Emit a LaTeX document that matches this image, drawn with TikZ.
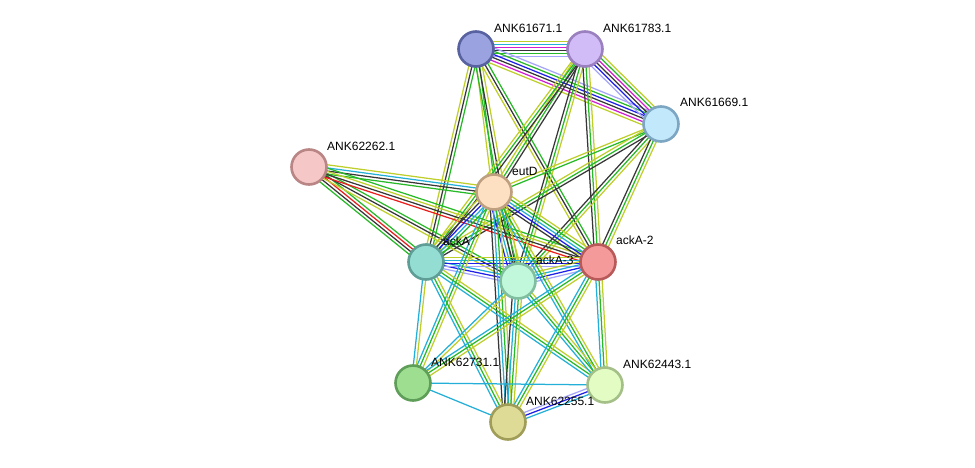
\documentclass[tikz,border=0pt]{standalone}
\usepackage{fontspec}
\setmainfont{Liberation Sans}
\usepackage{tikz}
\usetikzlibrary{calc}
\pgfdeclarelayer{background}
\pgfsetlayers{background,main}
\definecolor{textmine}{RGB}{190,206,42}
\definecolor{coexp}{RGB}{55,55,55}
\definecolor{neigh}{RGB}{40,185,40}
\definecolor{dbase}{RGB}{35,175,215}
\definecolor{cooccur}{RGB}{30,30,235}
\definecolor{fusion}{RGB}{235,30,30}
\definecolor{exper}{RGB}{210,30,210}
\definecolor{homol}{RGB}{165,165,250}

% one protein-protein link: a bundle of parallel coloured lines
\newcommand{\linkedge}[3]{%
  \foreach \col [count=\i] in {#3} {\xdef\ncol{\i}}
  \foreach \col [count=\i] in {#3} {
    \pgfmathsetmacro{\off}{(\i-(\ncol+1)/2)*3.1}
    \draw[edgeline, \col] ($(#1)!\off pt!90:(#2)$) -- ($(#2)!\off pt!-90:(#1)$);
  }%
}

\begin{document}
\begin{tikzpicture}[x=1pt, y=-1pt,
  prot/.style={circle, minimum size=35pt, inner sep=0pt, line width=2.6pt},
  plabel/.style={anchor=west, inner sep=0pt, font=\fontsize{12}{14}\selectfont},
  edgeline/.style={line width=1.25pt}]
  \useasboundingbox (0,0) rectangle (975,468);

  % Proteins
  \node[prot, fill={rgb,255:red,154;green,163;blue,223}, draw={rgb,255:red,88;green,98;blue,160}] (a61671) at (476,49) {};
  \node[prot, fill={rgb,255:red,210;green,188;blue,248}, draw={rgb,255:red,155;green,128;blue,192}] (a61783) at (585,49) {};
  \node[prot, fill={rgb,255:red,194;green,232;blue,251}, draw={rgb,255:red,124;green,166;blue,194}] (a61669) at (661,124) {};
  \node[prot, fill={rgb,255:red,245;green,199;blue,199}, draw={rgb,255:red,185;green,133;blue,133}] (a62262) at (309,167) {};
  \node[prot, fill={rgb,255:red,253;green,223;blue,193}, draw={rgb,255:red,190;green,160;blue,128}] (eutD) at (494,192) {};
  \node[prot, fill={rgb,255:red,148;green,221;blue,211}, draw={rgb,255:red,94;green,158;blue,150}] (ackA) at (426,262) {};
  \node[prot, fill={rgb,255:red,193;green,247;blue,218}, draw={rgb,255:red,128;green,190;blue,160}] (ackA3) at (518,281) {};
  \node[prot, fill={rgb,255:red,245;green,154;blue,154}, draw={rgb,255:red,185;green,90;blue,90}] (ackA2) at (598,262) {};
  \node[prot, fill={rgb,255:red,158;green,222;blue,145}, draw={rgb,255:red,94;green,158;blue,88}] (a62731) at (413,383) {};
  \node[prot, fill={rgb,255:red,226;green,252;blue,195}, draw={rgb,255:red,164;green,192;blue,136}] (a62443) at (605,385) {};
  \node[prot, fill={rgb,255:red,222;green,219;blue,150}, draw={rgb,255:red,160;green,157;blue,88}] (a62255) at (508,422) {};

  % Labels
  \node[plabel] at ($(a61671)+(18,-21)$) {ANK61671.1};
  \node[plabel] at ($(a61783)+(18,-21)$) {ANK61783.1};
  \node[plabel] at ($(a61669)+(19,-22)$) {ANK61669.1};
  \node[plabel] at ($(a62262)+(18,-21)$) {ANK62262.1};
  \node[plabel] at ($(eutD)+(18,-21)$) {eutD};
  \node[plabel] at ($(ackA)+(17,-21)$) {ackA};
  \node[plabel] at ($(ackA3)+(18,-21)$) {ackA-3};
  \node[plabel] at ($(ackA2)+(18,-22)$) {ackA-2};
  \node[plabel] at ($(a62731)+(18,-21)$) {ANK62731.1};
  \node[plabel] at ($(a62443)+(18,-21)$) {ANK62443.1};
  \node[plabel] at ($(a62255)+(18,-21)$) {ANK62255.1};

  % Links
  \begin{pgfonlayer}{background}
    \linkedge{a61671}{a61783}{homol,neigh,coexp,exper,dbase,textmine}
    \linkedge{a61671}{a61669}{textmine,exper,coexp,cooccur,neigh,homol}
    \linkedge{a61783}{a61669}{homol,cooccur,coexp,exper,neigh,textmine}
    \linkedge{a61671}{eutD}{textmine,neigh}
    \linkedge{a61671}{ackA}{textmine,coexp,neigh}
    \linkedge{a61671}{ackA3}{neigh,coexp,textmine}
    \linkedge{a61671}{ackA2}{textmine,coexp,neigh}
    \linkedge{a61783}{eutD}{textmine,neigh,coexp}
    \linkedge{a61783}{ackA}{textmine,neigh,coexp}
    \linkedge{a61783}{ackA3}{coexp,neigh,textmine}
    \linkedge{a61783}{ackA2}{coexp,neigh,textmine}
    \linkedge{a61669}{eutD}{textmine,neigh}
    \linkedge{a61669}{ackA}{textmine,neigh,coexp}
    \linkedge{a61669}{ackA3}{coexp,neigh,textmine}
    \linkedge{a61669}{ackA2}{coexp,neigh,textmine}
    \linkedge{a62262}{eutD}{neigh,coexp,dbase,textmine}
    \linkedge{a62262}{ackA}{neigh,coexp,fusion,neigh}
    \linkedge{a62262}{ackA3}{textmine,coexp,neigh}
    \linkedge{a62262}{ackA2}{fusion,coexp,textmine,neigh}
    \linkedge{eutD}{ackA}{textmine,coexp,cooccur,dbase,neigh}
    \linkedge{eutD}{ackA3}{cooccur,dbase,coexp,neigh,textmine}
    \linkedge{eutD}{ackA2}{coexp,cooccur,dbase,neigh,textmine}
    \linkedge{ackA}{ackA3}{homol,cooccur,dbase}
    \linkedge{ackA}{ackA2}{homol,cooccur,dbase,textmine}
    \linkedge{ackA3}{ackA2}{homol,cooccur,dbase,textmine}
    \linkedge{eutD}{a62731}{dbase,neigh,textmine}
    \linkedge{eutD}{a62443}{dbase,neigh,textmine}
    \linkedge{eutD}{a62255}{coexp,dbase,neigh,textmine}
    \linkedge{ackA}{a62731}{dbase,textmine}
    \linkedge{ackA}{a62443}{dbase,neigh,textmine}
    \linkedge{ackA}{a62255}{dbase,neigh,textmine}
    \linkedge{ackA3}{a62731}{dbase,textmine}
    \linkedge{ackA3}{a62443}{dbase,neigh,textmine}
    \linkedge{ackA3}{a62255}{coexp,dbase,neigh,textmine}
    \linkedge{ackA2}{a62731}{dbase,neigh,textmine}
    \linkedge{ackA2}{a62443}{dbase,neigh,textmine}
    \linkedge{ackA2}{a62255}{dbase,neigh,textmine}
    \linkedge{a62731}{a62443}{dbase}
    \linkedge{a62731}{a62255}{dbase}
    \linkedge{a62443}{a62255}{homol,cooccur,dbase}
  \end{pgfonlayer}
\end{tikzpicture}
\end{document}
